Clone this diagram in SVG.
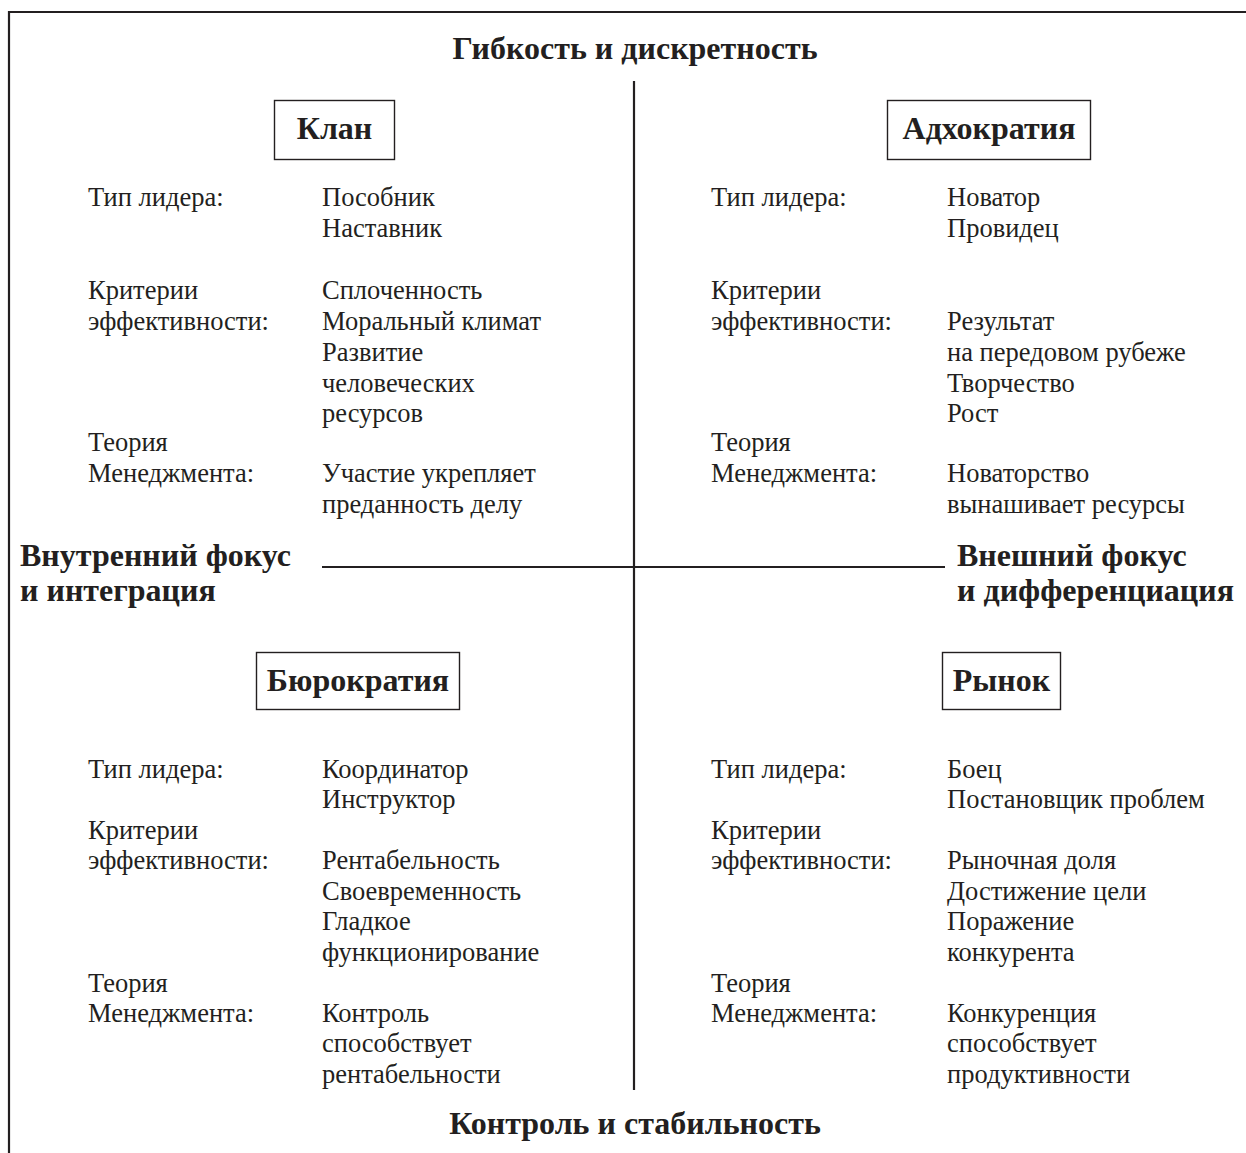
<svg xmlns="http://www.w3.org/2000/svg" width="1246" height="1153" viewBox="0 0 1246 1153">
<style>
text{font-family:"Liberation Serif","Times New Roman",serif;fill:#231f20}
.b{font-size:26.5px}
.h{font-size:32px;font-weight:bold}
.t{font-size:32px;font-weight:bold;text-anchor:middle}
.bx{fill:#fff;stroke:#231f20;stroke-width:1.4}
.ln{stroke:#231f20;stroke-width:2.2;fill:none}
</style>
<rect width="1246" height="1153" fill="#fff"/>
<g id="frame">
<path class="ln" d="M9,1153 V12 H1246"/>
</g>
<g id="connectors">
<line class="ln" x1="634" y1="81" x2="634" y2="1090"/>
<line class="ln" x1="322" y1="567" x2="945" y2="567"/>
</g>
<g id="axis-labels">
<text class="t" x="635" y="59">Гибкость и дискретность</text>
<text class="t" x="635" y="1134">Контроль и стабильность</text>
<text class="h" x="20" y="566">Внутренний фокус</text>
<text class="h" x="20" y="601">и интеграция</text>
<text class="h" x="957" y="566">Внешний фокус</text>
<text class="h" x="957" y="601">и дифференциация</text>
</g>
<g id="clan">
<rect class="bx" x="274.5" y="100.5" width="120" height="59"/>
<text class="t" x="334.5" y="139">Клан</text>
<text class="b" x="88" y="206">Тип лидера:</text>
<text class="b" x="322" y="206">Пособник</text>
<text class="b" x="322" y="237">Наставник</text>
<text class="b" x="88" y="299">Критерии</text>
<text class="b" x="88" y="330">эффективности:</text>
<text class="b" x="322" y="299">Сплоченность</text>
<text class="b" x="322" y="330">Моральный климат</text>
<text class="b" x="322" y="361">Развитие</text>
<text class="b" x="322" y="392">человеческих</text>
<text class="b" x="322" y="422">ресурсов</text>
<text class="b" x="88" y="451">Теория</text>
<text class="b" x="88" y="482">Менеджмента:</text>
<text class="b" x="322" y="482">Участие укрепляет</text>
<text class="b" x="322" y="513">преданность делу</text>
</g>
<g id="adhocracy">
<rect class="bx" x="887.5" y="100.5" width="203" height="59"/>
<text class="t" x="989" y="139">Адхократия</text>
<text class="b" x="711" y="206">Тип лидера:</text>
<text class="b" x="947" y="206">Новатор</text>
<text class="b" x="947" y="237">Провидец</text>
<text class="b" x="711" y="299">Критерии</text>
<text class="b" x="711" y="330">эффективности:</text>
<text class="b" x="947" y="330">Результат</text>
<text class="b" x="947" y="361">на передовом рубеже</text>
<text class="b" x="947" y="392">Творчество</text>
<text class="b" x="947" y="422">Рост</text>
<text class="b" x="711" y="451">Теория</text>
<text class="b" x="711" y="482">Менеджмента:</text>
<text class="b" x="947" y="482">Новаторство</text>
<text class="b" x="947" y="513">вынашивает ресурсы</text>
</g>
<g id="bureaucracy">
<rect class="bx" x="256.5" y="652.5" width="203" height="57"/>
<text class="t" x="358" y="691">Бюрократия</text>
<text class="b" x="88" y="778">Тип лидера:</text>
<text class="b" x="322" y="778">Координатор</text>
<text class="b" x="322" y="808">Инструктор</text>
<text class="b" x="88" y="839">Критерии</text>
<text class="b" x="88" y="869">эффективности:</text>
<text class="b" x="322" y="869">Рентабельность</text>
<text class="b" x="322" y="900">Своевременность</text>
<text class="b" x="322" y="930">Гладкое</text>
<text class="b" x="322" y="961">функционирование</text>
<text class="b" x="88" y="992">Теория</text>
<text class="b" x="88" y="1022">Менеджмента:</text>
<text class="b" x="322" y="1022">Контроль</text>
<text class="b" x="322" y="1052">способствует</text>
<text class="b" x="322" y="1083">рентабельности</text>
</g>
<g id="market">
<rect class="bx" x="942.5" y="652.5" width="118" height="57"/>
<text class="t" x="1001.5" y="691">Рынок</text>
<text class="b" x="711" y="778">Тип лидера:</text>
<text class="b" x="947" y="778">Боец</text>
<text class="b" x="947" y="808">Постановщик проблем</text>
<text class="b" x="711" y="839">Критерии</text>
<text class="b" x="711" y="869">эффективности:</text>
<text class="b" x="947" y="869">Рыночная доля</text>
<text class="b" x="947" y="900">Достижение цели</text>
<text class="b" x="947" y="930">Поражение</text>
<text class="b" x="947" y="961">конкурента</text>
<text class="b" x="711" y="992">Теория</text>
<text class="b" x="711" y="1022">Менеджмента:</text>
<text class="b" x="947" y="1022">Конкуренция</text>
<text class="b" x="947" y="1052">способствует</text>
<text class="b" x="947" y="1083">продуктивности</text>
</g>
</svg>
